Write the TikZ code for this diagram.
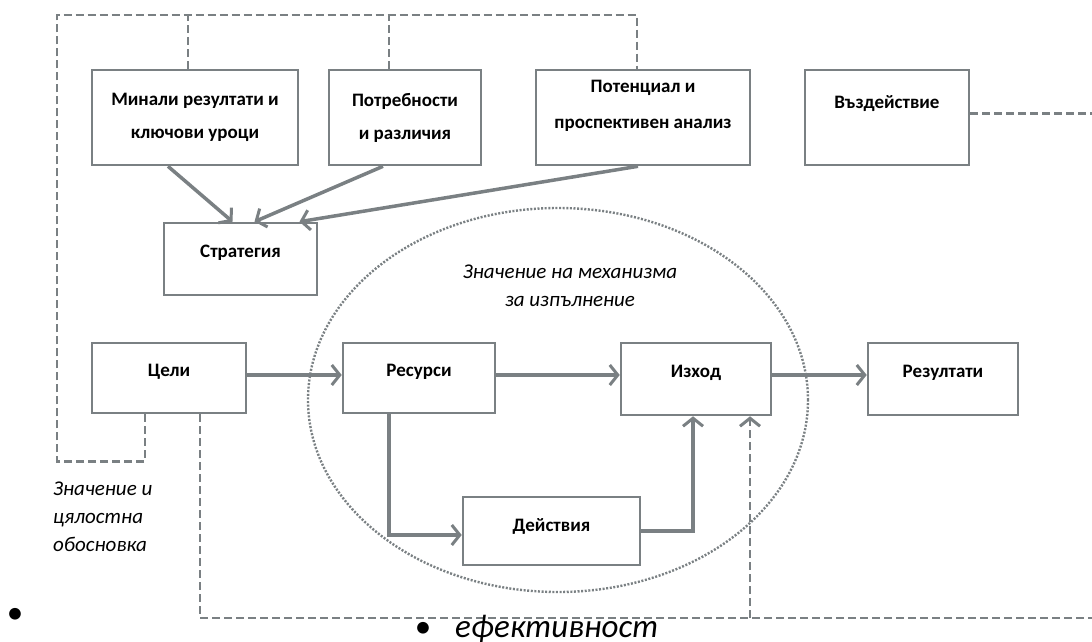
\documentclass[tikz,border=0pt]{standalone}
\usepackage{fontspec}
\setmainfont{Carlito}
\usetikzlibrary{positioning, arrows.meta}

\definecolor{linegray}{RGB}{122,128,131}

\begin{document}
\begin{tikzpicture}[x=1pt, y=-1pt,
        box/.style={draw=linegray, line width=2.6pt, align=center, inner sep=0pt,
            font=\bfseries\fontsize{19}{33}\selectfont},
        flow/.style={draw=linegray, line width=3.5pt,
            -{Straight Barb[length=8pt, width=20pt, line width=3pt]}},
        fb/.style={draw=linegray, line width=2.6pt, dash pattern=on 8pt off 4pt},
        note/.style={inner sep=0pt, font=\itshape\fontsize{21}{28}\selectfont}]
        \useasboundingbox (0,0) rectangle (1092,642);

        % top row
        \node [box, minimum width=206pt, minimum height=95pt] (past) at (195,117.5)
            {Минали резултати и\\ключови уроци};
        \node [box, minimum width=152pt, minimum height=95pt] (needs) at (405,117.5)
            {Потребности\\и различия};
        \node [box, minimum width=214pt, minimum height=95pt, text depth=26pt] (pot) at (643,117.5)
            {Потенциал и\\[3pt]проспективен анализ};
        \node [box, minimum width=164pt, minimum height=95pt, text height=13pt, text depth=32pt] (impact) at (887,117.5)
            {Въздействие};
        \node [box, minimum width=153pt, minimum height=72pt, text height=13pt, text depth=16pt] (strat) at (240.5,259)
            {Стратегия};

        % middle row
        \node [box, minimum width=154pt, minimum height=70pt, text height=13pt, text depth=16pt] (goals) at (169,378) {Цели};
        \node [box, minimum width=152pt, minimum height=70pt, text height=13pt, text depth=16pt] (res) at (419,378) {Ресурси};
        \node [box, minimum width=150pt, minimum height=72pt, text height=13pt, text depth=16pt] (output) at (696,379) {Изход};
        \node [box, minimum width=150pt, minimum height=72pt, text height=13pt, text depth=16pt] (results) at (943,379) {Резултати};
        \node [box, minimum width=177pt, minimum height=68pt, text height=13pt, text depth=13pt] (act) at (551.5,531) {Действия};

        % mechanism
        \draw [linegray, line width=2.4pt, dash pattern=on 2pt off 1.6pt] (558,400) ellipse [x radius=250pt, y radius=192pt];
        \node [note, align=center] (mechlbl) at (570,286) {Значение на механизма\\за изпълнение};
        \node [note, align=left, anchor=north west] (worthlbl) at (53,482) {Значение и\\цялостна\\обосновка};

        % dashed feedback
        \coordinate (loopT) at (57,15);
        \coordinate (rightB) at (1092,618);
        \coordinate (effTap) at (750,618);
        \draw [fb] ([xshift=-24pt]goals.south) -- ++(0,47) -| (loopT) -| ([xshift=-6pt]pot.north);
        \draw [fb] ([xshift=-7pt]past.north) -- ([xshift=-7pt]past.north |- loopT);
        \draw [fb] ([xshift=-16pt]needs.north) -- ([xshift=-16pt]needs.north |- loopT);
        \draw [fb] ([xshift=31pt]goals.south) |- (rightB);
        \draw [fb, -{Straight Barb[length=8pt, width=20pt, line width=3pt]}] (effTap) -- (effTap |- output.south);
        \draw [fb] ([yshift=4pt]impact.east) -- ([yshift=4pt]impact.east -| rightB);

        % solid flows
        \draw [flow] ([xshift=-27pt]past.south) -- ([xshift=-8pt]strat.north);
        \draw [flow] ([xshift=-22pt]needs.south) -- ([xshift=14pt]strat.north);
        \draw [flow] ([xshift=-5pt]pot.south) -- ([xshift=59pt]strat.north);
        \draw [flow] ([yshift=3pt]goals.east) -- ([yshift=3pt]res.west);
        \draw [flow] ([yshift=3pt]res.east) -- ([yshift=4pt]output.west);
        \draw [flow] ([yshift=4pt]output.east) -- ([yshift=4pt]results.west);
        \draw [flow] ([xshift=-30pt]res.south) |- ([yshift=-4pt]act.west);
        \draw [flow] (act.east) -| ([xshift=-3pt]output.south);

        % stray bullets
        \node [anchor=base, inner sep=0pt, font=\fontsize{33}{40}\selectfont] (dotL) at (15,623) {•};
        \node [anchor=base, inner sep=0pt, font=\fontsize{33}{40}\selectfont] (dotB) at (423,637) {•};
        \node [anchor=base west, inner sep=0pt, font=\itshape\fontsize{33}{40}\selectfont] (eff) at (455,637) {ефективност};
    \end{tikzpicture}
\end{document}
